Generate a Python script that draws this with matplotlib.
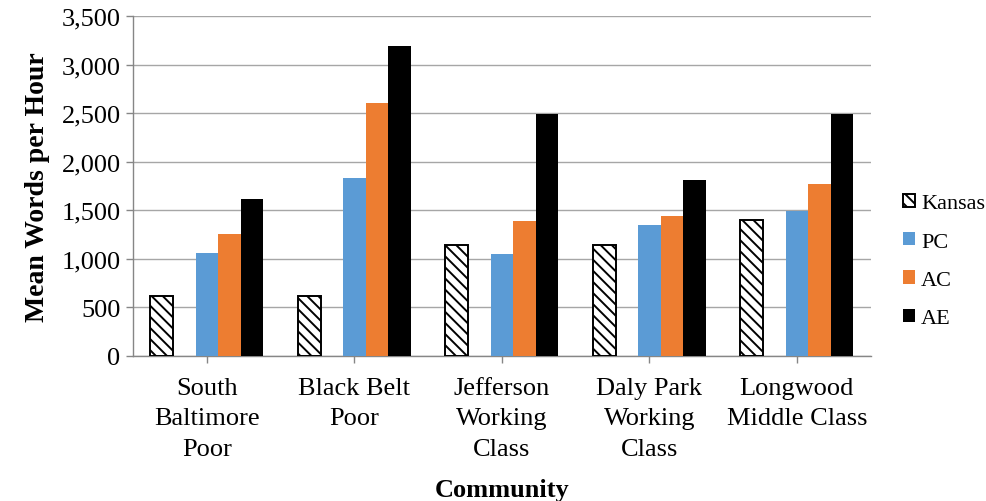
import matplotlib.pyplot as plt
import numpy as np

# Data
communities = ["South\nBaltimore\nPoor", "Black Belt\nPoor", "Jefferson\nWorking\nClass",
               "Daly Park\nWorking\nClass", "Longwood\nMiddle Class"]
kansas = [620, 620, 1140, 1140, 1400]
pc = [1060, 1835, 1045, 1350, 1490]
ac = [1255, 2600, 1390, 1440, 1775]
ae = [1615, 3195, 2490, 1815, 2495]
yticks = [0, 500, 1000, 1500, 2000, 2500, 3000, 3500]

plt.rcParams['font.family'] = ['Liberation Serif', 'DejaVu Serif']
plt.rcParams['hatch.linewidth'] = 1.4

fig = plt.figure(figsize=(9.86, 5.02), dpi=100)
ax = fig.add_axes([0.135, 0.289, 0.748, 0.677])

x = np.arange(len(communities))
w = 0.153

ax.bar(x - 2 * w, kansas, w, color='white', edgecolor='black', linewidth=1.4,
       hatch='\\\\\\', label='Kansas', zorder=3)
ax.bar(x, pc, w, color='#5B9BD5', label='PC', zorder=3)
ax.bar(x + w, ac, w, color='#ED7D31', label='AC', zorder=3)
ax.bar(x + 2 * w, ae, w, color='black', label='AE', zorder=3)

ax.set_xlim(-0.5, 4.5)
ax.set_ylim(0, 3500)
ax.set_yticks(yticks)
ax.set_yticklabels([f"{v:,}" for v in yticks], fontsize=19)
ax.set_xticks(x)
ax.set_xticklabels(communities, fontsize=19, linespacing=1.5)

ax.yaxis.grid(True, color='#A6A6A6', linewidth=1)
ax.set_axisbelow(True)
for s in ['top', 'right']:
    ax.spines[s].set_visible(False)
for s in ['left', 'bottom']:
    ax.spines[s].set_color('#868686')
    ax.spines[s].set_linewidth(1)
ax.tick_params(axis='both', color='#868686', length=5, width=1)
ax.tick_params(axis='x', pad=10)
ax.tick_params(axis='y', pad=4)

ax.set_ylabel("Mean Words per Hour", fontsize=20, fontweight='bold', labelpad=8)
ax.set_xlabel("Community", fontsize=19, fontweight='bold', labelpad=13)

fig.legend(loc='center left', bbox_to_anchor=(0.916, 0.478), frameon=False,
           fontsize=16, handlelength=0.55, handleheight=0.55, handletextpad=0.25,
           labelspacing=0.85, borderaxespad=0, borderpad=0)

fig.savefig('out.png', dpi=100)
